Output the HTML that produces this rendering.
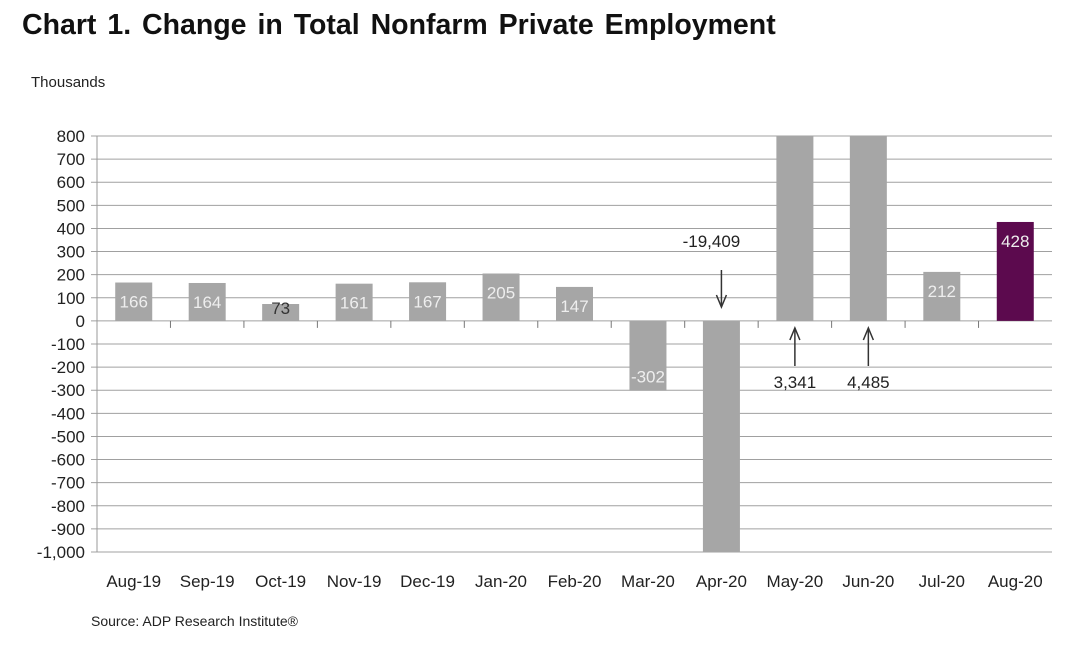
<!DOCTYPE html>
<html><head><meta charset="utf-8"><style>
body{margin:0;background:#fff;width:1080px;height:645px;overflow:hidden;font-family:"Liberation Sans",Arial,sans-serif}
svg text{font-family:"Liberation Sans",Arial,sans-serif}
</style></head><body>
<svg id="chart" width="1080" height="645" xmlns="http://www.w3.org/2000/svg">
<text x="22" y="34" font-size="28.5" font-weight="bold" fill="#111" word-spacing="3">Chart 1. Change in Total Nonfarm Private Employment</text>
<text x="31" y="87" font-size="15" fill="#222">Thousands</text>
<text x="91" y="626" font-size="14" fill="#222">Source: ADP Research Institute®</text>
<g id="grid"></g><g id="bars"></g><g id="axes"></g><g id="notes"></g>
</svg>
<script>
const categories=["Aug-19","Sep-19","Oct-19","Nov-19","Dec-19","Jan-20","Feb-20","Mar-20","Apr-20","May-20","Jun-20","Jul-20","Aug-20"];
const values=[166,164,73,161,167,205,147,-302,-19409,3341,4485,212,428];
const labels=["166","164","73","161","167","205","147","-302","","","","212","428"];
const yTicks=[800,700,600,500,400,300,200,100,0,-100,-200,-300,-400,-500,-600,-700,-800,-900,-1000];
const yTickLabels=["800","700","600","500","400","300","200","100","0","-100","-200","-300","-400","-500","-600","-700","-800","-900","-1,000"];
const NS="http://www.w3.org/2000/svg";
const x0=97,x1=1052,yTop=136,yBot=552,yMin=-1000,yMax=800;
const bw=(x1-x0)/categories.length;
function y(v){v=Math.max(yMin,Math.min(yMax,v));return yTop+(yMax-v)/(yMax-yMin)*(yBot-yTop);}
function xc(i){return x0+bw*(i+0.5);}
function mk(p,t,a){const e=document.createElementNS(NS,t);for(const k in a)e.setAttribute(k,a[k]);p.appendChild(e);return e;}
const grid=document.getElementById('grid'),bars=document.getElementById('bars'),axes=document.getElementById('axes'),notes=document.getElementById('notes');
yTicks.forEach((v,i)=>{
  const l=mk(grid,'line',{x1:x0-6,x2:x1,y1:y(v),y2:y(v),stroke:'#a0a0a0','stroke-width':1});
  
  
  const t=mk(axes,'text',{x:x0-12,y:y(v)+6,'font-size':17,'text-anchor':'end',fill:'#222'});
  t.textContent=yTickLabels[i];
  
  
});
const ax=mk(axes,'line',{x1:x0,x2:x0,y1:yTop,y2:yBot,stroke:'#999'});


for(let i=1;i<categories.length;i++){
  const t=mk(axes,'line',{x1:x0+bw*i,x2:x0+bw*i,y1:y(0),y2:y(0)+7,stroke:'#777'});
  
  
}
categories.forEach((c,i)=>{
  const v=values[i],top=y(Math.max(v,0)),bot=y(Math.min(v,0));
  const r=mk(bars,'rect',{x:xc(i)-18.5,y:top,width:37,height:bot-top,fill:i==12?'#5c0a4e':'#a6a6a6'});
  
  
  if(labels[i]){
    const ly=v>=0?Math.min(top+25,y(0)-7):bot-8;
    const t=mk(bars,'text',{x:xc(i),y:ly,'font-size':17,'text-anchor':'middle',fill:v<100&&v>0?'#333':'#eee'});
    t.textContent=labels[i];
    
    
  }
  const t=mk(axes,'text',{x:xc(i),y:587,'font-size':17,'text-anchor':'middle',fill:'#222'});
  t.textContent=c;
  
  
});
function arrow(i,up,txt,ty){
  const cx=xc(i);
  const g=mk(notes,'g',{stroke:'#333','stroke-width':1.5,fill:'none'});
  
  
  if(up){mk(g,'line',{x1:cx,x2:cx,y1:366,y2:328});mk(g,'polyline',{points:`${cx-5},${340} ${cx},${328} ${cx+5},${340}`});}
  else{mk(g,'line',{x1:cx,x2:cx,y1:270,y2:307});mk(g,'polyline',{points:`${cx-5},${295} ${cx},${307} ${cx+5},${295}`});}
  const t=mk(notes,'text',{x:up?cx:cx-10,y:ty,'font-size':17,'text-anchor':'middle',fill:'#222'});
  t.textContent=txt;
  
  
}
arrow(8,false,"-19,409",247);
arrow(9,true,"3,341",388);
arrow(10,true,"4,485",388);
</script>
</body></html>
